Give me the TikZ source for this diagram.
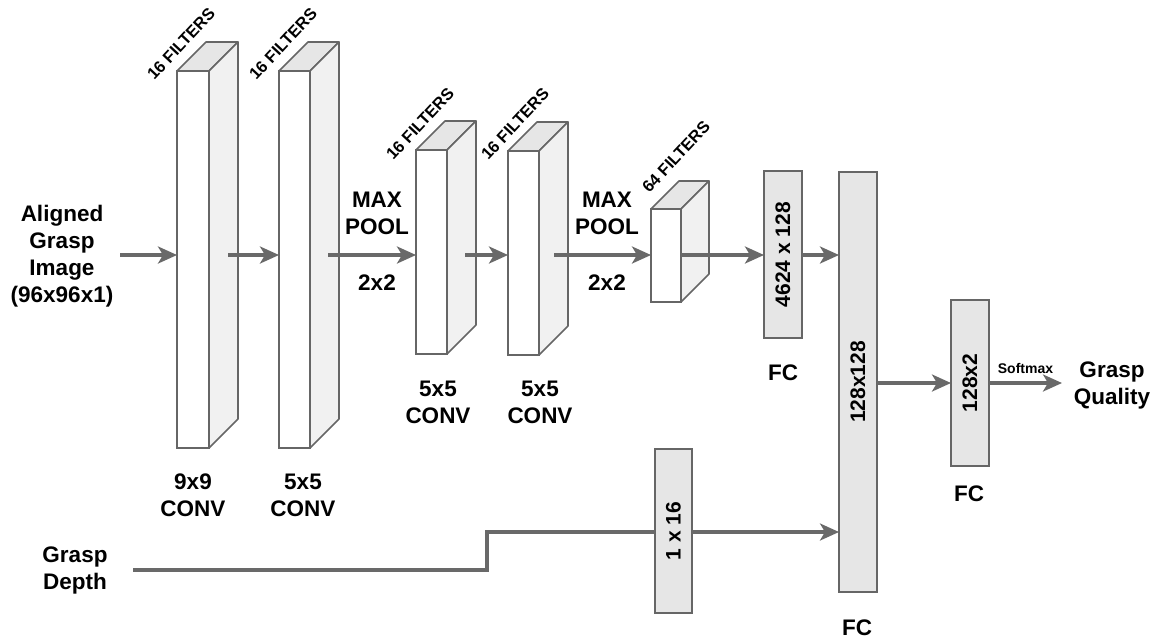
\documentclass[tikz,border=0pt]{standalone}
\usepackage{fontspec}
\setmainfont{Liberation Sans}
\usetikzlibrary{arrows.meta,calc}
\definecolor{edgec}{HTML}{666666}
\definecolor{arrc}{HTML}{696969}
\definecolor{topc}{HTML}{E6E6E6}
\definecolor{sidec}{HTML}{F1F1F1}
\definecolor{fcc}{HTML}{E6E6E6}
\tikzset{
  frontface/.style={draw=edgec, line width=1.6pt, fill=white, inner sep=0pt, outer sep=0pt},
  face/.style={draw=edgec, line width=1.6pt, line join=round},
  fcbox/.style={draw=edgec, line width=1.6pt, fill=fcc, inner sep=0pt, outer sep=0pt,
    font=\bfseries\fontsize{21}{25}\selectfont},
  conn/.style={draw=arrc, line width=3.2pt},
  arr/.style={conn, -{Stealth[length=19pt, width=17pt, inset=5pt]}},
  lbl/.style={font=\bfseries\fontsize{22.5}{27}\selectfont, align=center, inner sep=0pt},
  filt/.style={font=\bfseries\fontsize{16.5}{18}\selectfont, rotate=47, inner sep=0pt},
}
\newcommand\mycuboid[6]{%
  \node[frontface, minimum width=#4pt, minimum height=#5pt, anchor=north west] (#1) at (#2,#3) {};
  \draw[face, fill=topc] (#1.north west) -- ++(#6,-#6) -- ++(#4,0) -- (#1.north east) -- cycle;
  \draw[face, fill=sidec] (#1.north east) -- ++(#6,-#6) -- ++(0,#5) -- (#1.south east) -- cycle;
}
\begin{document}
\begin{tikzpicture}[x=1pt, y=-1pt]
\fill[white] (0,0) rectangle (1157,641);
\useasboundingbox (0,0) rectangle (1157,641);

% cuboids
\mycuboid{b1}{177}{71}{32}{377}{29}
\mycuboid{b2}{279}{71}{31}{377}{29}
\mycuboid{b3}{416}{150}{31}{204}{29}
\mycuboid{b4}{508}{151}{31}{204}{29}
\mycuboid{b5}{651}{209}{30}{93}{28}

% FC boxes
\node[fcbox, minimum width=38pt, minimum height=167pt] (fc1) at (783,254.5) {\rotatebox{90}{4624 x 128}};
\node[fcbox, minimum width=38pt, minimum height=420pt] (fc2) at (858,382) {\rotatebox{90}{128x128}};
\node[fcbox, minimum width=38pt, minimum height=166pt] (fc3) at (970,383) {\rotatebox{90}{128x2}};
\node[fcbox, minimum width=37pt, minimum height=164pt] (fc4) at (673.5,531) {\rotatebox{90}{1 x 16}};

% filter labels
\node[filt] (f1) at (181,44) {16 FILTERS};
\node[filt] (f2) at (283,44) {16 FILTERS};
\node[filt] (f3) at (420,124) {16 FILTERS};
\node[filt] (f4) at (515,124) {16 FILTERS};
\node[filt] (f5) at (676,157) {64 FILTERS};

% text labels
\node[lbl] (img) at (62,256) {Aligned\\Grasp\\Image\\(96x96x1)};
\node[lbl] (depth) at (75,570) {Grasp\\Depth};
\node[lbl] (qual) at (1112,385) {Grasp\\Quality};
\node[lbl] (mp1) at (377,213) {MAX\\POOL};
\node[lbl] (pp1) at (377,283) {2x2};
\node[lbl] (mp2) at (607,213) {MAX\\POOL};
\node[lbl] (pp2) at (607,283) {2x2};
\node[lbl] (c1) at (193,495) {9x9\\CONV};
\node[lbl] (c2) at (303,495) {5x5\\CONV};
\node[lbl] (c3) at (438,402) {5x5\\CONV};
\node[lbl] (c4) at (540,402) {5x5\\CONV};
\node[lbl] (fcl1) at (783,373) {FC};
\node[lbl] (fcl2) at (857,628) {FC};
\node[lbl] (fcl3) at (969,494) {FC};

% connector start points
\coordinate (s0) at (120,255);
\coordinate (s1) at (228,255);
\coordinate (s2) at (328,255);
\coordinate (s3) at (465,255);
\coordinate (s4) at (554,255);
\coordinate (s5) at (681,255);
\coordinate (s9) at (1062,383);
\coordinate (d0) at (133,570);
\coordinate (d1) at (487,570);
\coordinate (d2) at (487,532);

% connectors
\draw[arr] (s0) -- (s0 -| b1.west);
\draw[arr] (s1) -- (s1 -| b2.west);
\draw[arr] (s2) -- (s2 -| b3.west);
\draw[arr] (s3) -- (s3 -| b4.west);
\draw[arr] (s4) -- (s4 -| b5.west);
\draw[arr] (s5) -- (s5 -| fc1.west);
\draw[arr] (s5 -| fc1.east) -- (s5 -| fc2.west);
\draw[arr] (fc2.east |- fc3.west) -- (fc3.west);
\draw[arr] (fc3.east) -- (s9) node[midway, above=15pt, anchor=center, font=\bfseries\fontsize{14}{16}\selectfont, inner sep=0pt] (soft) {Softmax};
\draw[conn, line join=miter] (d0) -- (d1) -- (d2) -- (d2 -| fc4.west);
\draw[arr] (d2 -| fc4.east) -- (d2 -| fc2.west);
\end{tikzpicture}
\end{document}
